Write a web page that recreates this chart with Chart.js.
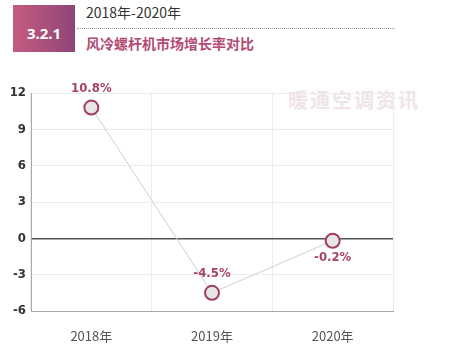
<!DOCTYPE html>
<html>
<head>
<meta charset="utf-8">
<script src="https://cdn.jsdelivr.net/npm/chart.js@4"></script>
<style>
  body { margin: 0; background: #fff; width: 450px; height: 352px; overflow: hidden; position: relative; font-family: "Noto Sans CJK SC", "Noto Sans", sans-serif; }
  #badge { position: absolute; left: 13px; top: 5px; width: 62px; height: 47px; background: linear-gradient(90deg, #c65b80, #8d4676); color: #fff; font: bold 15px "Noto Sans", sans-serif; display: flex; align-items: center; justify-content: center; padding-top: 8px; box-sizing: border-box; }
  #years { position: absolute; left: 86px; top: 2px; font-size: 14px; color: #333; }
  #rule { position: absolute; left: 77px; top: 28px; width: 318px; border-top: 1px dotted #999; }
  #sub { position: absolute; left: 86px; top: 33px; font-size: 14px; color: #b24a74; font-weight: bold; }
  #mark { position: absolute; left: 288px; top: 85px; font-size: 20px; color: #f0e4e9; font-weight: bold; letter-spacing: 2px; }
  canvas { position: absolute; left: 0; top: 0; }
</style>
</head>
<body>
<div id="badge">3.2.1</div>
<div id="years">2018年-2020年</div>
<div id="rule"></div>
<div id="sub">风冷螺杆机市场增长率对比</div>
<div id="mark">暖通空调资讯</div>
<canvas id="c" width="450" height="352"></canvas>
<script>
const categories = ['2018年', '2019年', '2020年'];
const growth = [10.8, -4.5, -0.2];
const yTicks = [-6, -3, 0, 3, 6, 9, 12];
const labelAbove = [true, true, false];

const pointLabels = {
  id: 'pointLabels',
  afterDatasetsDraw(chart) {
    const ctx = chart.ctx;
    const meta = chart.getDatasetMeta(0);
    ctx.save();
    ctx.font = 'bold 13px "Liberation Sans Narrow", "DejaVu Sans Condensed", sans-serif';
    ctx.fillStyle = '#a8426c';
    ctx.textAlign = 'center';
    ctx.textBaseline = 'middle';
    meta.data.forEach((pt, i) => {
      const dy = labelAbove[i] ? -19 : 17;
      ctx.fillText(growth[i].toFixed(1) + '%', pt.x, pt.y + dy);
    });
    ctx.restore();
  }
};

new Chart(document.getElementById('c'), {
  type: 'line',
  data: {
    labels: categories,
    datasets: [{
      data: growth,
      borderColor: '#cfcfcf',
      borderWidth: 1,
      pointRadius: 7,
      pointHoverRadius: 7,
      pointBorderWidth: 2,
      pointBorderColor: '#a13d67',
      pointBackgroundColor: '#e6e6e6',
      tension: 0
    }]
  },
  options: {
    responsive: false,
    animation: false,
    plugins: { legend: { display: false }, tooltip: { enabled: false } },
    layout: { padding: { left: 0, top: 93, right: 57, bottom: 0 } },
    scales: {
      x: {
        offset: true,
        grid: { offset: true, color: '#ececec', drawTicks: false },
        border: { color: '#aaa', width: 1 },
        ticks: { color: '#555', font: { size: 13, family: '"Noto Sans CJK SC", sans-serif' }, padding: 17 },
        afterFit(s) { s.height = 41; }
      },
      y: {
        min: -6, max: 12,
        afterBuildTicks(s) { s.ticks = yTicks.map(v => ({ value: v })); },
        grid: {
          color: ctx => ctx.tick && ctx.tick.value === 0 ? '#555' : '#ececec',
          lineWidth: ctx => ctx.tick && ctx.tick.value === 0 ? 1.5 : 1,
          drawTicks: false
        },
        border: { color: '#aaa', width: 1 },
        ticks: { color: '#333', font: { size: 13, weight: 'bold', family: '"Liberation Sans Narrow", "DejaVu Sans Condensed", sans-serif' }, padding: 5 },
        afterFit(s) { s.width = 31; }
      }
    }
  },
  plugins: [pointLabels]
});
</script>
</body>
</html>
